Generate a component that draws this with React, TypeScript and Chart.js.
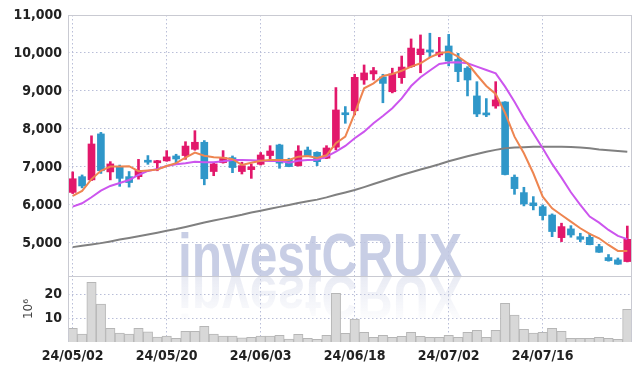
import React, { useEffect, useRef } from 'react';
import { Chart, registerables } from 'chart.js';

Chart.register(...registerables);

const dates = [
  '24/05/02', '24/05/03', '24/05/07', '24/05/08', '24/05/09', '24/05/10', '24/05/13', '24/05/14', '24/05/16', '24/05/17',
  '24/05/20', '24/05/21', '24/05/22', '24/05/23', '24/05/24', '24/05/27', '24/05/28', '24/05/29', '24/05/30', '24/05/31',
  '24/06/03', '24/06/04', '24/06/05', '24/06/07', '24/06/10', '24/06/11', '24/06/12', '24/06/13', '24/06/14', '24/06/17',
  '24/06/18', '24/06/19', '24/06/20', '24/06/21', '24/06/24', '24/06/25', '24/06/26', '24/06/27', '24/06/28', '24/07/01',
  '24/07/02', '24/07/03', '24/07/04', '24/07/05', '24/07/08', '24/07/09', '24/07/10', '24/07/11', '24/07/12', '24/07/15',
  '24/07/16', '24/07/17', '24/07/18', '24/07/19', '24/07/22', '24/07/23', '24/07/24', '24/07/25', '24/07/26', '24/07/29',
];

const opens = [
  6330, 6745, 6660, 7870, 6870, 6990, 6745, 6745, 7155, 7110,
  7160, 7290, 7300, 7465, 7650, 6880, 7115, 7245, 6880, 6930,
  7070, 7300, 7580, 7200, 7035, 7445, 7385, 7230, 7520, 8405,
  8480, 9290, 9450, 9370, 8980, 9350, 9640, 9955, 10080, 9950,
  10185, 9835, 9600, 8870, 8415, 8605, 8710, 6730, 6325, 6055,
  5955, 5735, 5140, 5370, 5165, 5150, 4905, 4615, 4555, 4510,
];
const highs = [
  6870, 6790, 7820, 7910, 7140, 7050, 6880, 7200, 7300, 7175,
  7430, 7335, 7665, 7955, 7695, 7110, 7430, 7290, 7125, 7080,
  7380, 7560, 7600, 7230, 7560, 7525, 7400, 7560, 9090, 8590,
  9440, 9685, 9620, 9440, 9600, 9920, 10370, 10475, 10520, 10410,
  10490, 9990, 9640, 9245, 8800, 9245, 8720, 6790, 6465, 6220,
  6000, 5765, 5520, 5455, 5255, 5240, 4965, 4695, 4605, 5445,
];
const lows = [
  6300, 6450, 6640, 6830, 6660, 6490, 6470, 6680, 7070, 6900,
  7150, 7080, 7200, 7440, 6530, 6770, 7100, 6850, 6815, 6700,
  7050, 7185, 6965, 7005, 7020, 7280, 7035, 7220, 7450, 8150,
  8370, 9175, 9290, 8690, 8950, 9200, 9620, 9480, 9900, 9900,
  9660, 9245, 8870, 8325, 8325, 8545, 6790, 6280, 5975, 5870,
  5605, 5165, 5035, 5150, 5035, 4950, 4750, 4520, 4435, 4500,
];
const closes = [
  6690, 6500, 7605, 6900, 7080, 6700, 6590, 6910, 7125, 7165,
  7265, 7210, 7550, 7650, 6690, 7080, 7245, 6985, 7035, 7005,
  7315, 7420, 7100, 7010, 7420, 7300, 7140, 7500, 8500, 8375,
  9360, 9475, 9535, 9200, 9450, 9630, 10130, 10105, 10025, 10025,
  9790, 9510, 9290, 8395, 8370, 8765, 6800, 6430, 6025, 5980,
  5720, 5300, 5430, 5210, 5095, 4955, 4755, 4535, 4440, 5095,
];

const maShort = [
  6240, 6370, 6680, 6900, 7010, 7010, 7020, 6890, 6910, 6930,
  7025, 7100, 7245, 7377, 7297, 7255, 7245, 7203, 7053, 7113,
  7166, 7184, 7184, 7184, 7272, 7290, 7237, 7307, 7623, 7798,
  8413, 9070, 9202, 9395, 9447, 9534, 9640, 9729, 9887, 9992,
  10034, 9903, 9729, 9421, 9132, 8921, 8420, 7798, 7360, 6834,
  6218, 5912, 5737, 5561, 5386, 5237, 5123, 4947, 4789, 4789,
];
const maMid = [
  5956, 6044, 6202, 6377, 6500, 6579, 6658, 6789, 6895, 6947,
  7026, 7070, 7097, 7140, 7123, 7123, 7150, 7184, 7184, 7180,
  7166, 7160, 7166, 7113, 7166, 7184, 7190, 7272, 7403, 7553,
  7755, 7930, 8150, 8342, 8544, 8807, 9130, 9360, 9540, 9711,
  9750, 9755, 9729, 9640, 9553, 9465, 9114, 8719, 8281, 7886,
  7492, 7080, 6720, 6333, 6000, 5693, 5535, 5342, 5184, 5100,
];
const maLong = [
  4890, 4925, 4960, 4995, 5040, 5090, 5130, 5175, 5220, 5270,
  5320, 5365, 5420, 5480, 5540, 5590, 5640, 5690, 5740, 5800,
  5850, 5900, 5950, 6000, 6050, 6095, 6140, 6200, 6270, 6330,
  6395, 6470, 6550, 6630, 6710, 6790, 6860, 6935, 7000, 7070,
  7150, 7215, 7280, 7340, 7400, 7450, 7495, 7510, 7520, 7530,
  7535, 7535, 7530, 7525, 7510, 7490, 7460, 7440, 7420, 7400,
];
const volumes = [
  5.7, 3.3, 24.9, 15.8, 5.7, 3.75, 3.3, 5.7, 4.2, 2.1,
  2.5, 1.5, 4.4, 4.4, 6.5, 3.3, 2.5, 2.5, 1.7, 1.9,
  2.5, 2.5, 2.8, 1.25, 3.2, 1.5, 1.1, 2.8, 20.3, 3.6,
  9.6, 4.0, 1.9, 2.8, 1.9, 2.4, 4.0, 2.4, 1.9, 1.9,
  2.8, 1.9, 4.0, 4.9, 1.9, 4.9, 16.1, 11.25, 5.3, 3.75,
  4.0, 5.7, 4.4, 1.5, 1.5, 1.5, 1.9, 1.5, 1.1, 13.6,
];

const priceTicks = [5000, 6000, 7000, 8000, 9000, 10000, 11000];
const volumeTicks = [10, 20];

const UP = '#e2186b';
const DOWN = '#2f97c9';
const GRID = '#b9bed8';
const DASH = [1.5, 2.5];
const LABEL_FONT = "'Liberation Sans Narrow', 'DejaVu Sans Condensed', 'Liberation Sans', sans-serif";

export default function App() {
  const ref = useRef<HTMLCanvasElement>(null);

  useEffect(() => {
    const colors = opens.map((o, i) => (closes[i] >= o ? UP : DOWN));

    const decoPlugin = {
      id: 'deco',
      beforeDatasetsDraw(chart: any) {
        const { ctx } = chart;
        const yb = chart.scales.y.bottom;
        ctx.save();
        ctx.font = "bold 62px 'Liberation Sans', 'DejaVu Sans', sans-serif";
        const w = ctx.measureText('investCRUX').width;
        const sx = 284 / w;
        ctx.translate(178, yb);
        ctx.scale(sx, 1);
        ctx.textBaseline = 'alphabetic';
        ctx.fillStyle = 'rgba(190,198,224,0.85)';
        ctx.fillText('investCRUX', 0, 0);
        ctx.scale(1, -1);
        const g = ctx.createLinearGradient(0, 0, 0, -46);
        g.addColorStop(0, 'rgba(205,210,230,0.45)');
        g.addColorStop(1, 'rgba(205,210,230,0.03)');
        ctx.fillStyle = g;
        ctx.fillText('investCRUX', 0, 0);
        ctx.restore();
      },
      afterDatasetsDraw(chart: any) {
        const { ctx, chartArea: a } = chart;
        const yb = Math.round(chart.scales.y.bottom) + 0.5;
        ctx.save();
        ctx.strokeStyle = '#c9cad2';
        ctx.lineWidth = 1;
        ctx.beginPath();
        ctx.moveTo(a.left + 0.5, a.top);
        ctx.lineTo(a.left + 0.5, a.bottom);
        ctx.moveTo(a.right - 0.5, a.top);
        ctx.lineTo(a.right - 0.5, a.bottom);
        ctx.moveTo(a.left, a.top + 0.5);
        ctx.lineTo(a.right, a.top + 0.5);
        ctx.moveTo(a.left, yb);
        ctx.lineTo(a.right, yb);
        ctx.stroke();
        ctx.restore();
      },
    };

    const chart = new Chart(ref.current as HTMLCanvasElement, {
      type: 'bar',
      data: {
        labels: dates,
        datasets: [
          { type: 'line', label: 'MA5', data: maShort, yAxisID: 'y', borderColor: '#ee8550', borderWidth: 2, pointRadius: 0, order: 0 } as any,
          { type: 'line', label: 'MA20', data: maMid, yAxisID: 'y', borderColor: '#cc55ee', borderWidth: 2, pointRadius: 0, order: 0 } as any,
          { type: 'line', label: 'MA120', data: maLong, yAxisID: 'y', borderColor: '#808080', borderWidth: 2, pointRadius: 0, order: 0 } as any,
          { type: 'bar', label: 'body', data: opens.map((o, i) => [o, closes[i]]), yAxisID: 'y', backgroundColor: colors, barThickness: 7, grouped: false, minBarLength: 2, order: 1 } as any,
          { type: 'bar', label: 'wick', data: lows.map((l, i) => [l, highs[i]]), yAxisID: 'y', backgroundColor: colors, barThickness: 2, grouped: false, order: 2 } as any,
          { type: 'bar', label: 'volume', data: volumes, yAxisID: 'yv', backgroundColor: '#d8d8d8', borderColor: '#b6b6b6', borderWidth: 1, barPercentage: 1, categoryPercentage: 1, grouped: false, order: 3 } as any,
        ],
      },
      options: {
        responsive: false,
        animation: false,
        layout: { padding: { top: 15, right: 10, left: 0, bottom: 0 } },
        plugins: { legend: { display: false }, tooltip: { enabled: false } },
        scales: {
          x: {
            type: 'category',
            offset: true,
            grid: {
              offset: false,
              drawTicks: false,
              lineWidth: 1,
              color: (c: any) => (c.index % 10 === 0 ? GRID : 'rgba(0,0,0,0)'),
            },
            border: { display: false, dash: DASH },
            ticks: {
              autoSkip: false,
              maxRotation: 0,
              padding: 6,
              color: '#222',
              font: { family: LABEL_FONT, size: 14, weight: 'bold' },
              callback: (_v: any, i: number) => (i % 10 === 0 ? dates[i] : ''),
            },
            afterFit: (s: any) => { s.height = 28; },
          },
          yv: {
            type: 'linear',
            position: 'left',
            stack: 'panes',
            stackWeight: 66,
            min: 0,
            max: 27.5,
            afterBuildTicks: (s: any) => { s.ticks = volumeTicks.map((v) => ({ value: v })); },
            grid: { drawTicks: false, color: GRID, lineWidth: 1 },
            border: { display: false, dash: DASH },
            ticks: {
              padding: 6,
              color: '#222',
              font: { family: LABEL_FONT, size: 14, weight: 'bold' },
              callback: (v: any) => String(v),
            },
            title: {
              display: true,
              text: '10⁶',
              color: '#444',
              padding: { top: 22, bottom: 0 },
              font: { family: "'DejaVu Sans', sans-serif", size: 12, weight: 'normal' },
            },
            afterFit: (s: any) => { s.width = 68; },
          },
          y: {
            type: 'linear',
            position: 'left',
            stack: 'panes',
            stackWeight: 261,
            min: 4130,
            max: 11000,
            afterBuildTicks: (s: any) => { s.ticks = priceTicks.map((v) => ({ value: v })); },
            grid: { drawTicks: false, color: GRID, lineWidth: 1 },
            border: { display: false, dash: DASH },
            ticks: {
              padding: 6,
              color: '#222',
              font: { family: LABEL_FONT, size: 14, weight: 'bold' },
              callback: (v: any) => Number(v).toLocaleString('en-US'),
            },
            afterFit: (s: any) => { s.width = 68; },
          },
        },
      } as any,
      plugins: [decoPlugin],
    });

    return () => chart.destroy();
  }, []);

  return (
    <div style={{ position: 'fixed', left: 0, top: 0, width: 642, height: 370, background: '#fff' }}>
      <canvas ref={ref} width={642} height={370} style={{ display: 'block' }} />
    </div>
  );
}
